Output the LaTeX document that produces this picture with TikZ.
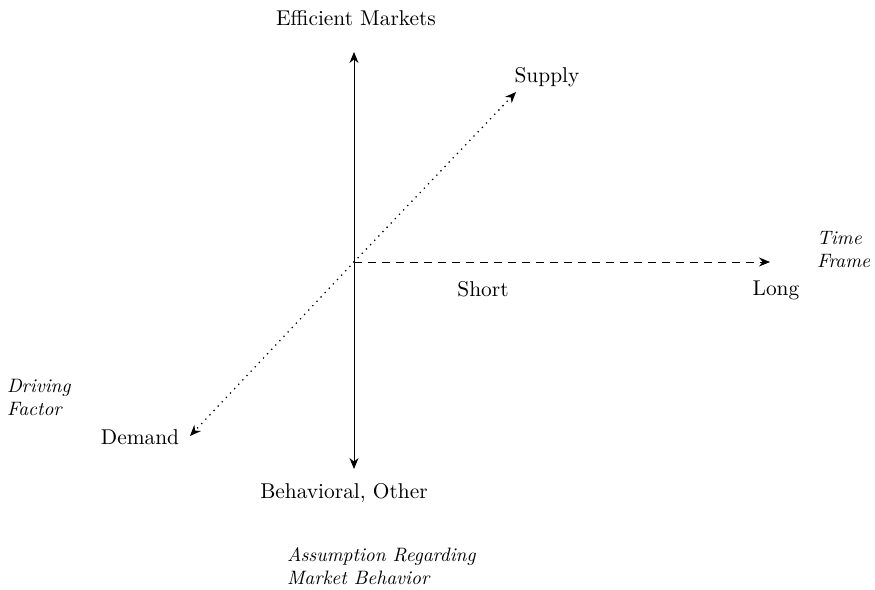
\documentclass[tikz,border=0pt]{standalone}
\usetikzlibrary{arrows.meta}
\tikzset{
	axis/.style={line width=0.45pt,-{Stealth[length=5.5pt,width=4.5pt]}},
	dots/.style={axis,line width=0.9pt,line cap=round,dash pattern=on 0pt off 3pt},
	lbl/.style={font=\fontsize{10.7}{13}\selectfont},
	ttl/.style={font=\fontsize{9.7}{11.5}\selectfont\itshape,align=left,anchor=west}
}
\begin{document}
\begin{tikzpicture}[x=0.5pt,y=-0.5pt]
	\useasboundingbox (0,0) rectangle (875,590);
	\coordinate (o) at (354,262);
	\coordinate (top) at (354,52);
	\coordinate (bot) at (354,469);
	\coordinate (lng) at (770,262);
	\coordinate (sup) at (516,92);
	\coordinate (dem) at (190,436);
	\draw[axis] (o)--(top);
	\draw[axis] (o)--(bot);
	\draw[axis,dash pattern=on 4pt off 3pt] (o)--(lng);
	\draw[dots] (o)--(sup);
	\draw[dots] (o)--(dem);
	\node[lbl] (effmkt) at (356,18){Efficient Markets};
	\node[lbl] (supply) at (547,77){Supply};
	\node[lbl] (short) at (483,289){Short};
	\node[lbl] (long) at (776,290){Long};
	\node[lbl] (demand) at (140,437){Demand};
	\node[lbl] (behav) at (344,493){Behavioral, Other};
	\node[ttl] (timefr) at (810,250){Time\\Frame};
	\node[ttl] (drvfac) at (0,397){Driving\\Factor};
	\node[ttl] (assump) at (280,566){Assumption Regarding\\Market Behavior};
\end{tikzpicture}
\end{document}
